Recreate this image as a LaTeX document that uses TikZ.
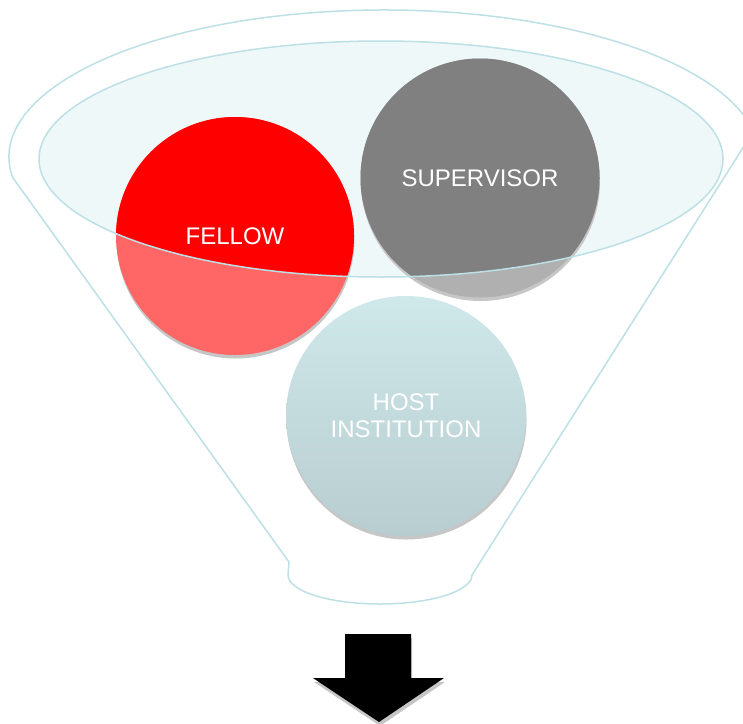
\documentclass[tikz,border=0pt]{standalone}
\usepackage{fontspec}
\setmainfont{Liberation Sans}
\definecolor{funline}{HTML}{BCE0E5}
\definecolor{funfill}{HTML}{EFF8F8}
\definecolor{fellowlight}{HTML}{FF6666}
\definecolor{supergray}{HTML}{808080}
\definecolor{superlight}{HTML}{B0B0B0}
\definecolor{hosttop}{HTML}{CFE8EA}
\definecolor{hostbot}{HTML}{B8CDD0}
\definecolor{shadowgray}{HTML}{C6C6C6}
\begin{document}
\begin{tikzpicture}[x=1pt, y=-1pt, line width=1.5pt,
    disc/.style={circle, minimum size=238pt, inner sep=0pt, text=white, align=center,
      font=\fontsize{24}{27}\selectfont}]
  \useasboundingbox (0,0) rectangle (743,723);
  \clip (0,0) rectangle (743,723);

  % funnel body
  \draw[funline] ([shift={(188:375pt and 147pt)}]384,157)
    arc[start angle=188, end angle=10, x radius=375pt, y radius=147pt]
    -- (472,575) arc[start angle=0, end angle=-180, x radius=92pt, y radius=29pt]
    -- (289,562) -- cycle;
  \fill[funfill] (381,159) ellipse [x radius=342pt, y radius=118pt];

  \coordinate (f) at (235,236);
  \coordinate (s) at (480,178);
  \coordinate (h) at (406,416);

  % discs
  \fill[shadowgray] ([shift={(0.5,3.5)}]f) circle (119pt);
  \fill[shadowgray] ([shift={(0.5,3.5)}]s) circle (119.5pt);
  \fill[shadowgray] ([shift={(0.5,3.5)}]h) circle (120pt);
  \fill[fellowlight] (f) circle (119pt);
  \fill[superlight] (s) circle (119.5pt);
  \shade[top color=hosttop, bottom color=hostbot] (h) circle (120pt);
  \begin{scope}
    \clip (381,159) ellipse [x radius=342pt, y radius=118pt];
    \fill[red] (f) circle (119pt);
    \fill[supergray] (s) circle (119.5pt);
  \end{scope}
  \draw[funline] (381,159) ellipse [x radius=342pt, y radius=118pt];

  \node[disc] (fellow) at (f) {FELLOW};
  \node[disc] (supervisor) at (s) {SUPERVISOR};
  \node[disc] (host) at (h) {HOST\\INSTITUTION};

  % down arrow
  \fill[shadowgray, shift={(1,4)}] (345,634) -- (411,634) -- (411,678) -- (444,678)
    -- (379,722) -- (313,678) -- (345,678) -- cycle;
  \fill[black] (345,634) -- (411,634) -- (411,678) -- (444,678)
    -- (379,722) -- (313,678) -- (345,678) -- cycle;
\end{tikzpicture}
\end{document}
